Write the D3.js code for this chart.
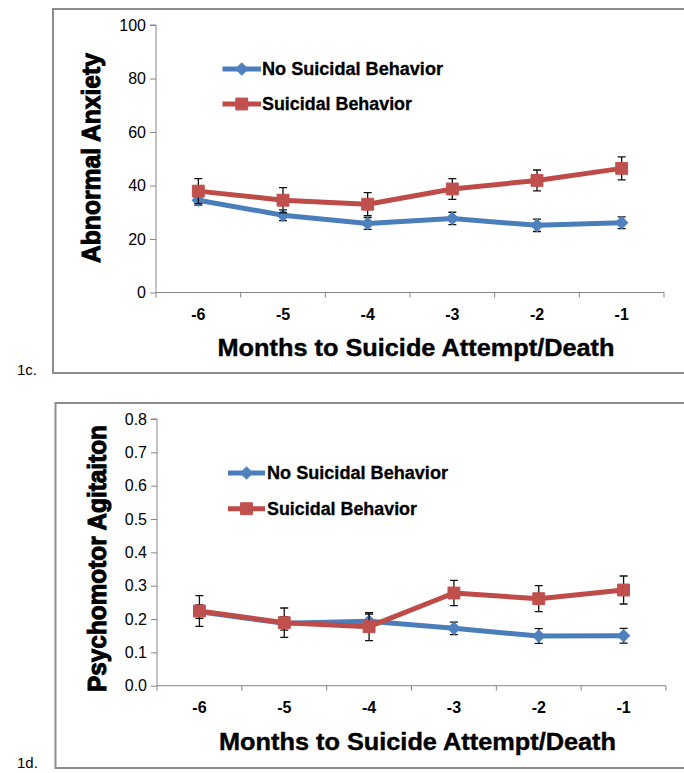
<!DOCTYPE html>
<html>
<head>
<meta charset="utf-8">
<script src="https://cdn.jsdelivr.net/npm/d3@7"></script>
<style>
  html, body { margin: 0; padding: 0; background: #fff; }
  svg { display: block; }
  text { font-family: "Liberation Sans", Arial, sans-serif; fill: #000; }
</style>
</head>
<body>
<svg id="chart" width="684" height="773"></svg>
<script>
// ---- Data ----
const months = ["-6", "-5", "-4", "-3", "-2", "-1"];
const seriesNames = ["No Suicidal Behavior", "Suicidal Behavior"];

const anxietyNo = [34.5, 28.9, 25.8, 27.7, 25.1, 26.1];
const anxietyNoErr = [1.8, 2.0, 2.2, 2.3, 2.3, 2.2];
const anxietySB = [37.9, 34.5, 33.0, 38.7, 41.9, 46.4];
const anxietySBErr = [4.7, 4.7, 4.3, 3.9, 3.9, 4.3];
const anxietyTicks = [0, 20, 40, 60, 80, 100];

const agitNo = [0.222, 0.187, 0.193, 0.172, 0.149, 0.150];
const agitNoErr = [0.020, 0.020, 0.022, 0.019, 0.022, 0.022];
const agitSB = [0.224, 0.189, 0.177, 0.278, 0.261, 0.287];
const agitSBErr = [0.046, 0.044, 0.042, 0.038, 0.039, 0.042];
const agitTicks = [0, 0.1, 0.2, 0.3, 0.4, 0.5, 0.6, 0.7, 0.8];

const colors = {
  blueLine: "#4a7ebb", blueMark: "#4f81bd",
  redLine: "#be4b48", redMark: "#c0504d",
  axis: "#868686", frame: "#8c8c8c"
};

const svg = d3.select("#chart");

function markerPath(shape) {
  return shape === "diamond"
    ? d3.symbol().type(d3.symbolSquare2).size(95)()
    : d3.symbol().type(d3.symbolSquare2).size(180)();
}

function drawPanel(cfg) {
  const g = svg.append("g");
  // frame
  g.append("rect")
    .attr("x", cfg.frame.x).attr("y", cfg.frame.y)
    .attr("width", cfg.frame.w).attr("height", cfg.frame.h)
    .attr("fill", "none").attr("stroke", colors.frame).attr("stroke-width", 2);

  g.append("text").attr("x", 17).attr("y", cfg.panelLabelY)
    .attr("font-size", 15).attr("fill", "#222").text(cfg.panelLabel);

  const x = d3.scaleBand().domain(months).range([cfg.x0, cfg.x1]).padding(0);
  const y = d3.scaleLinear().domain([0, cfg.yMax]).range([cfg.yBottom, cfg.yTop]);

  // Y axis
  const yAxis = d3.axisLeft(y).tickValues(cfg.ticks).tickSize(6).tickPadding(4)
    .tickFormat(cfg.fmt);
  const ya = g.append("g").attr("transform", `translate(${cfg.x0},0)`).call(yAxis)
    .attr("font-size", 16).attr("font-family", "'Liberation Sans', Arial, sans-serif");
  ya.select(".domain").attr("stroke", colors.axis).attr("d", `M-6,${cfg.yTop}H0V${cfg.yBottom}`);
  ya.selectAll(".tick line").attr("stroke", colors.axis);
  ya.selectAll(".tick text").style("font-size", "16px").attr("fill", "#222");

  // X axis
  const xAxis = d3.axisBottom(x).tickSize(0).tickPadding(16);
  const xa = g.append("g").attr("transform", `translate(0,${cfg.yBottom})`).call(xAxis)
    .attr("font-size", 16).attr("font-family", "'Liberation Sans', Arial, sans-serif");
  xa.select(".domain").attr("stroke", colors.axis).attr("d", `M${cfg.x0},0H${cfg.x1}`);
  xa.selectAll(".tick text").style("font-size", "16px").style("font-weight", "bold")
    .attr("fill", "#000");
  // boundary ticks
  const bounds = months.map(m => x(m)).concat([cfg.x1]);
  xa.selectAll(".btick").data(bounds).enter().append("line")
    .attr("x1", d => d).attr("x2", d => d).attr("y1", 0).attr("y2", 5)
    .attr("stroke", colors.axis);

  // titles
  g.append("text")
    .attr("x", (cfg.x0 + cfg.x1) / 2 + 6).attr("y", cfg.xTitleY)
    .attr("text-anchor", "middle")
    .attr("textLength", 397).attr("lengthAdjust", "spacingAndGlyphs")
    .style("font-size", "24px").style("font-weight", "bold")
    .attr("stroke", "#000").attr("stroke-width", 0.4)
    .text("Months to Suicide Attempt/Death");

  g.append("text")
    .attr("transform", `translate(${cfg.yTitleX},${cfg.yTitleCY}) rotate(-90)`)
    .attr("text-anchor", "middle")
    .attr("textLength", cfg.yTitleLen).attr("lengthAdjust", "spacingAndGlyphs")
    .style("font-size", "25px").style("font-weight", "bold")
    .attr("stroke", "#000").attr("stroke-width", 1)
    .text(cfg.yTitle);

  const cx = m => x(m) + x.bandwidth() / 2;

  const series = [
    { vals: cfg.no, err: cfg.noErr, line: colors.blueLine, mark: colors.blueMark, shape: "diamond" },
    { vals: cfg.sb, err: cfg.sbErr, line: colors.redLine, mark: colors.redMark, shape: "square" }
  ];

  series.forEach(s => {
    const pts = months.map((m, i) => ({ m, v: s.vals[i], e: s.err[i] }));
    g.append("path").datum(pts)
      .attr("fill", "none").attr("stroke", s.line).attr("stroke-width", 5)
      .attr("stroke-linejoin", "round")
      .attr("d", d3.line().x(d => cx(d.m)).y(d => y(d.v)));
    const eb = g.append("g");
    pts.forEach(d => {
      const xc = cx(d.m), yt = y(d.v + d.e), yb = y(d.v - d.e);
      eb.append("path")
        .attr("d", `M${xc},${yt}V${yb}M${xc - 4},${yt}H${xc + 4}M${xc - 4},${yb}H${xc + 4}`)
        .attr("stroke", "#111").attr("stroke-width", 1.3).attr("fill", "none");
    });
    g.selectAll(null).data(pts).enter().append("path")
      .attr("transform", d => `translate(${cx(d.m)},${y(d.v)})` + (s.shape === "diamond" ? " rotate(45)" : ""))
      .attr("d", markerPath(s.shape))
      .attr("fill", s.mark).attr("stroke", s.mark).attr("stroke-width", 1);
  });

  // legend
  cfg.legend.forEach((L, i) => {
    const s = series[i];
    g.append("line").attr("x1", L.x1).attr("x2", L.x2).attr("y1", L.y).attr("y2", L.y)
      .attr("stroke", s.line).attr("stroke-width", 5);
    const mx = (L.x1 + L.x2) / 2;
    g.append("path")
      .attr("transform", `translate(${mx},${L.y})` + (s.shape === "diamond" ? " rotate(45)" : ""))
      .attr("d", markerPath(s.shape))
      .attr("fill", s.mark).attr("stroke", s.mark);
    g.append("text").attr("x", L.tx).attr("y", L.y).attr("dy", "0.36em")
      .attr("textLength", L.len).attr("lengthAdjust", "spacingAndGlyphs")
      .style("font-size", "18px").style("font-weight", "bold")
      .attr("stroke", "#000").attr("stroke-width", 0.3)
      .text(seriesNames[i]);
  });
}

drawPanel({
  frame: { x: 53, y: 9, w: 680, h: 364 },
  panelLabel: "1c.", panelLabelY: 375,
  x0: 156, x1: 664, yTop: 25, yBottom: 292.5, yMax: 100,
  ticks: anxietyTicks, fmt: d3.format("d"),
  xTitleY: 356, yTitleX: 100, yTitleCY: 158, yTitleLen: 210,
  yTitle: "Abnormal Anxiety",
  no: anxietyNo, noErr: anxietyNoErr, sb: anxietySB, sbErr: anxietySBErr,
  legend: [
    { x1: 222.5, x2: 261, y: 69, tx: 262, len: 181 },
    { x1: 222.5, x2: 261, y: 104, tx: 262, len: 150 }
  ]
});

drawPanel({
  frame: { x: 55.5, y: 403, w: 680, h: 365 },
  panelLabel: "1d.", panelLabelY: 768,
  x0: 157, x1: 666, yTop: 419, yBottom: 685.7, yMax: 0.8,
  ticks: agitTicks, fmt: d3.format(".1f"),
  xTitleY: 750, yTitleX: 106, yTitleCY: 558.5, yTitleLen: 267,
  yTitle: "Psychomotor Agitaiton",
  no: agitNo, noErr: agitNoErr, sb: agitSB, sbErr: agitSBErr,
  legend: [
    { x1: 228, x2: 265, y: 473, tx: 267, len: 181 },
    { x1: 228, x2: 265, y: 508.7, tx: 267, len: 150 }
  ]
});
</script>
</body>
</html>
